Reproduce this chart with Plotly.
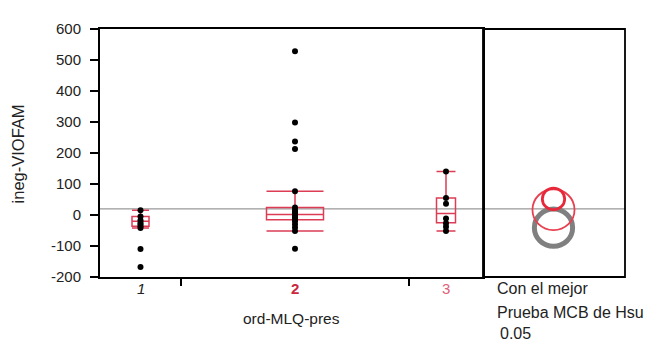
import plotly.graph_objects as go

# ---------------- data ----------------
groups = ["1", "2", "3"]
pts_g1 = [15, -5, -17, -25, -30, -36, -42, -110, -168]
pts_g2 = [528, 298, 237, 213, 77, 24, 15, 10, 5, 2, 0, -2, -5, -8, -12, -15, -20, -30, -40, -52, -109]
pts_g3 = [140, 55, 36, -11, -27, -38, -52]

box_upper = [15, 77, 140]
box_q3 = [-5, 24, 55]
box_median = [-20, 2, 5]
box_q1 = [-36, -15, -25]
box_lower = [-42, -52, -52]

grand_mean = 20

# comparison circles (Hsu MCB): centre and radius in y units
circle_centre = [-41, 17, 52]
circle_radius = [60, 66, 35]

y_ticks = [600, 500, 400, 300, 200, 100, 0, -100, -200]

# ---------------- layout constants ----------------
OFF = 8                     # page body margin
W, H = 653 - OFF, 341 - OFF
ML, MR, MT, MB = 100 - OFF, 28, 22 - OFF, 64
PW = W - ML - MR            # 525
PH = H - MT - MB            # 255
PLOT_L, PLOT_T = 100, 22    # page coords of plot area
MAIN_W = 383                # px width of main panel
d = MAIN_W / PW
group_edges = [0, 81, 309, 383]
group_centres = [(group_edges[i] + group_edges[i + 1]) / 2 for i in range(3)]
box_widths = [17, 57, 19]
px_per_unit = PH / 800.0
x2_range = (PW - MAIN_W) / px_per_unit

RED = "#dc3d55"
FONT = "Arial, Liberation Sans, sans-serif"
TXT = "#222222"


def px_x(xp):
    return (xp - PLOT_L) / PW


def px_y(yp):
    return (PLOT_T + PH - yp) / PH


fig = go.Figure()

all_pts = [pts_g1, pts_g2, pts_g3]
for i in range(3):
    fig.add_trace(go.Box(
        x=[group_centres[i]], q1=[box_q1[i]], median=[box_median[i]], q3=[box_q3[i]],
        lowerfence=[box_lower[i]], upperfence=[box_upper[i]],
        width=box_widths[i], whiskerwidth=1, boxpoints=False,
        line=dict(color=RED, width=1.5), fillcolor="rgba(0,0,0,0)",
        showlegend=False, hoverinfo="skip", xaxis="x", yaxis="y"))
    fig.add_trace(go.Scatter(
        x=[group_centres[i]] * len(all_pts[i]), y=all_pts[i], mode="markers",
        marker=dict(color="black", size=6), showlegend=False, xaxis="x", yaxis="y"))

# invisible trace to establish right subplot
fig.add_trace(go.Scatter(x=[x2_range / 2], y=[grand_mean], mode="markers",
                         marker=dict(opacity=0), showlegend=False,
                         xaxis="x2", yaxis="y", hoverinfo="skip"))

shapes = []
shapes.append(dict(type="line", xref="paper", yref="y", x0=0, x1=1, y0=grand_mean, y1=grand_mean,
                   line=dict(color="#999999", width=1.2), layer="below"))
circ_colors = ["#808080", "#e8404f", "#e8283a"]
circ_widths = [5, 1.8, 2.8]
cx = (553.5 - (PLOT_L + MAIN_W)) / px_per_unit
for c, r, col, lw in zip(circle_centre, circle_radius, circ_colors, circ_widths):
    shapes.append(dict(type="circle", xref="x2", yref="y", x0=cx - r, x1=cx + r, y0=c - r, y1=c + r,
                       line=dict(color=col, width=lw)))
shapes.append(dict(type="rect", xref="paper", yref="paper", x0=d, x1=1, y0=0, y1=1,
                   line=dict(color="black", width=1.8)))

annotations = []
lab_styles = [("<i>1</i>", TXT), ("<b>2</b>", "#c8283e"), ("3", "#e0607a")]
for gc, (t, col) in zip(group_centres, lab_styles):
    annotations.append(dict(x=gc, y=px_y(289), xref="x", yref="paper", text=t, showarrow=False,
                            font=dict(family=FONT, size=15, color=col), yanchor="middle"))
annotations.append(dict(x=px_x(291.5), y=px_y(320), xref="paper", yref="paper",
                        text="ord-MLQ-pres", showarrow=False, yanchor="middle",
                        font=dict(family=FONT, size=15.5, color=TXT)))
annotations.append(dict(x=px_x(18), y=px_y(151), xref="paper", yref="paper",
                        text="ineg-VIOFAM", textangle=-90, showarrow=False,
                        xanchor="center", yanchor="middle",
                        font=dict(family=FONT, size=16.5, color=TXT)))
for txt, yc, xl in [("Con el mejor", 289, 495), ("Prueba MCB de Hsu", 314, 495), ("0.05", 335, 498)]:
    annotations.append(dict(x=px_x(xl), y=px_y(yc), xref="paper", yref="paper",
                            text=txt, showarrow=False, xanchor="left", yanchor="middle",
                            font=dict(family=FONT, size=16, color=TXT)))

fig.update_layout(
    width=W, height=H, margin=dict(l=ML, r=MR, t=MT, b=MB),
    paper_bgcolor="white", plot_bgcolor="white",
    font=dict(family=FONT, size=15, color=TXT),
    xaxis=dict(domain=[0, d], range=[0, MAIN_W], tickvals=group_edges[1:3], ticktext=["", ""],
               ticks="outside", ticklen=7, tickwidth=1.5, tickcolor="black",
               showline=True, linewidth=2, linecolor="black", mirror=True,
               showgrid=False, zeroline=False, fixedrange=True),
    xaxis2=dict(domain=[d, 1], range=[0, x2_range], anchor="y", showticklabels=False,
                showline=False, showgrid=False, zeroline=False, ticks=""),
    yaxis=dict(range=[-200, 600], tickvals=y_ticks, ticktext=[str(v) for v in y_ticks],
               ticks="outside", ticklen=8, tickwidth=1.5, tickcolor="black", ticklabelstandoff=6,
               showline=True, linewidth=2, linecolor="black", mirror=True,
               showgrid=False, zeroline=False, tickfont=dict(size=15, color=TXT)),
    shapes=shapes, annotations=annotations,
)

fig.write_html("out.html")
